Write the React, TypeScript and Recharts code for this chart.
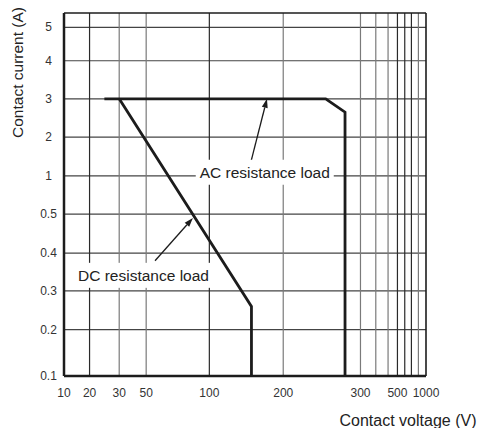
import React from 'react';
import { LineChart, Line, XAxis, YAxis, ReferenceLine, ReferenceDot, Label } from 'recharts';

// axis ticks
const VOLT_TICKS = [10, 20, 30, 50, 100, 200, 300, 500, 1000];
const VOLT_GRID = [20, 30, 50, 100, 200, 300, 400, 450, 500, 600, 700, 800];
const AMP_TICKS = [0.1, 0.2, 0.3, 0.4, 0.5, 1, 2, 3, 4, 5];

// load curves
const AC_VOLTS = [25, 255, 280, 280];
const AC_AMPS = [3, 3, 2.65, 0.1];
const DC_VOLTS = [30, 157, 157];
const DC_AMPS = [3, 0.26, 0.1];

// the printed grid is hand spaced (not a true log scale), so each axis gets a warp table
const X_WARP: [number, number][] = [
  [10, 0], [20, 0.0706], [30, 0.1525], [50, 0.227], [100, 0.4015], [200, 0.6056],
  [300, 0.819], [400, 0.8613], [450, 0.8952], [500, 0.9211], [600, 0.9413],
  [700, 0.9597], [800, 0.979], [1000, 1],
];
const Y_WARP: [number, number][] = [
  [0.1, 0], [0.2, 0.1277], [0.3, 0.2344], [0.4, 0.3383], [0.5, 0.4458], [1, 0.5514],
  [2, 0.6581], [3, 0.7637], [4, 0.8685], [5, 0.9603], [6, 1],
];

const warp = (table: [number, number][], v: number) => {
  for (let i = 0; i < table.length - 1; i++) {
    const [v0, p0] = table[i];
    const [v1, p1] = table[i + 1];
    if (v <= v1) return p0 + ((v - v0) / (v1 - v0)) * (p1 - p0);
  }
  return 1;
};
const xw = (v: number) => warp(X_WARP, v);
const yw = (v: number) => warp(Y_WARP, v);

const acData = AC_VOLTS.map((v, i) => ({ x: xw(v), y: yw(AC_AMPS[i]) }));
const dcData = DC_VOLTS.map((v, i) => ({ x: xw(v), y: yw(DC_AMPS[i]) }));

const DARK_V = [20, 100, 500, 600, 700];
const FONT = '"Liberation Sans", Arial, sans-serif';
const INK = '#1c1c1c';

const nearestLabel = (ticks: number[], fn: (v: number) => number, p: number) => {
  let best = ticks[0];
  for (const t of ticks) if (Math.abs(fn(t) - p) < Math.abs(fn(best) - p)) best = t;
  return String(best);
};

const Arrow = (props: any) => {
  const { x1, y1, x2, y2 } = props;
  const dx = x2 - x1;
  const dy = y2 - y1;
  const len = Math.sqrt(dx * dx + dy * dy);
  const ux = dx / len;
  const uy = dy / len;
  const hl = 9;
  const hw = 3;
  const bx = x2 - ux * hl;
  const by = y2 - uy * hl;
  return (
    <g>
      <line x1={x1} y1={y1} x2={bx} y2={by} stroke={INK} strokeWidth={1.3} />
      <polygon
        points={`${x2},${y2} ${bx - uy * hw},${by + ux * hw} ${bx + uy * hw},${by - ux * hw}`}
        fill={INK}
      />
    </g>
  );
};

const boxedText = (text: string, w: number) => (props: any) => {
  const { cx, cy } = props;
  return (
    <g>
      <rect x={cx - w / 2} y={cy - 13} width={w} height={25} fill="#fff" />
      <text x={cx} y={cy} textAnchor="middle" dominantBaseline="central" fontFamily={FONT} fontSize={15.5} fill="#222">
        {text}
      </text>
    </g>
  );
};

const YTick = (props: any) => {
  const { y, payload } = props;
  return (
    <text x={48.5} y={y} textAnchor="middle" dominantBaseline="central" fontFamily={FONT} fontSize={12} fill="#333">
      {nearestLabel(AMP_TICKS, yw, payload.value)}
    </text>
  );
};

export default function App() {
  return (
    <div style={{ position: 'absolute', left: 0, top: 0, background: '#fff' }}>
      <LineChart width={477} height={428} margin={{ top: 13, right: 51, bottom: 0, left: 0 }}>
        <XAxis
          type="number"
          dataKey="x"
          domain={[0, 1]}
          allowDataOverflow
          ticks={VOLT_TICKS.map(xw)}
          tickFormatter={(p: number) => nearestLabel(VOLT_TICKS, xw, p)}
          tickLine={false}
          tickSize={0}
          tickMargin={12}
          height={52}
          axisLine={{ stroke: INK, strokeWidth: 2.5 }}
          tick={{ fontFamily: FONT, fontSize: 12, fill: '#333' }}
        >
          <Label
            content={() => (
              <text x={408} y={426} textAnchor="middle" fontFamily={FONT} fontSize={16} fill="#222">
                Contact voltage (V)
              </text>
            )}
          />
        </XAxis>
        <YAxis
          type="number"
          dataKey="y"
          domain={[0, 1]}
          allowDataOverflow
          ticks={AMP_TICKS.map(yw)}
          tick={<YTick />}
          tickLine={false}
          tickSize={0}
          width={64}
          axisLine={{ stroke: INK, strokeWidth: 2.5 }}
        >
          <Label
            content={() => (
              <text
                x={22.5}
                y={72.5}
                transform="rotate(-90, 22.5, 72.5)"
                textAnchor="middle"
                fontFamily={FONT}
                fontSize={15.5}
                fill="#222"
              >
                Contact current (A)
              </text>
            )}
          />
        </YAxis>

        {AMP_TICKS.slice(1).map((a) => (
          <ReferenceLine key={`h${a}`} y={yw(a)} stroke="#444" strokeWidth={1.2} />
        ))}
        {VOLT_GRID.map((v) => (
          <ReferenceLine
            key={`v${v}`}
            x={xw(v)}
            stroke={DARK_V.includes(v) ? '#2a2a2a' : '#7a7a7a'}
            strokeWidth={1.2}
          />
        ))}
        <ReferenceLine y={1} stroke={INK} strokeWidth={1.6} />
        <ReferenceLine x={1} stroke={INK} strokeWidth={1.6} />

        <ReferenceDot x={xw(175)} y={yw(1.08)} shape={boxedText('AC resistance load', 138)} />
        <ReferenceDot x={xw(48)} y={yw(0.34)} shape={boxedText('DC resistance load', 140)} />

        <Line data={acData} dataKey="y" type="linear" stroke={INK} strokeWidth={2.8} strokeLinejoin="miter" dot={false} isAnimationActive={false} />
        <Line data={dcData} dataKey="y" type="linear" stroke={INK} strokeWidth={2.8} strokeLinejoin="miter" dot={false} isAnimationActive={false} />

        <ReferenceLine segment={[{ x: xw(156), y: yw(1.34) }, { x: xw(178), y: yw(3) }]} shape={Arrow} />
        <ReferenceLine segment={[{ x: xw(57), y: yw(0.38) }, { x: xw(87), y: yw(0.49) }]} shape={Arrow} />
      </LineChart>
    </div>
  );
}
